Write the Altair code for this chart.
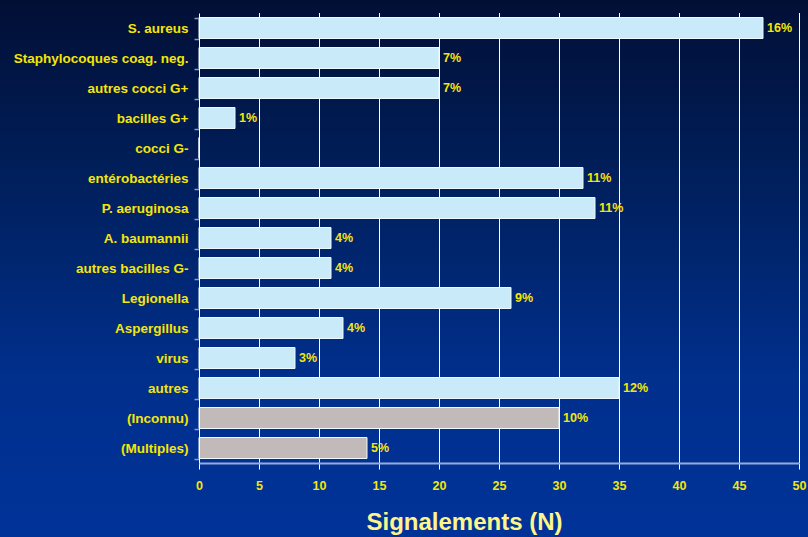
import altair as alt
import pandas as pd

# Reported cases per organism
categories = [
    "S. aureus", "Staphylocoques coag. neg.", "autres cocci G+", "bacilles G+",
    "cocci G-", "entérobactéries", "P. aeruginosa", "A. baumannii",
    "autres bacilles G-", "Legionella", "Aspergillus", "virus", "autres",
    "(Inconnu)", "(Multiples)",
]
counts = [47, 20, 20, 3, 0, 32, 33, 11, 11, 26, 12, 8, 35, 30, 14]
groups = ["connu"] * 13 + ["indéterminé"] * 2
x_ticks = [0, 5, 10, 15, 20, 25, 30, 35, 40, 45, 50]

total = sum(counts)
df = pd.DataFrame({"organisme": categories, "n": counts, "groupe": groups})
df["pct"] = [f"{round(v / total * 100)}%" for v in counts]

YELLOW = "#F5E50A"
W, H = 600, 450
PAD = {"left": 199, "top": 13, "right": 9, "bottom": 74}

x_scale = alt.Scale(domain=[0, 50], nice=False)
y_scale = alt.Scale(domain=categories, paddingInner=0.3, paddingOuter=0.15)

x_axis = alt.Axis(
    values=x_ticks, grid=False, title="Signalements (N)",
    domainColor="#9aaad6", domainWidth=2, tickColor="white", tickSize=6,
    labelColor=YELLOW, labelFont="Liberation Sans", labelFontWeight="bold",
    labelFontSize=12.5, labelPadding=10, labelFlush=False,
    titleColor="#FFF58A", titleFont="Liberation Sans", titleFontWeight="bold",
    titleFontSize=24, titleX=265, titleY=66, titleAlign="center",
    titleBaseline="alphabetic", zindex=1,
)
y_axis = alt.Axis(
    title=None, grid=False, domainColor="white", domainWidth=1,
    tickColor="#8c9dc8", tickSize=5, tickWidth=1.5, tickBand="extent",
    labelColor=YELLOW, labelFont="Liberation Sans", labelFontWeight="bold",
    labelFontSize=13.5, labelPadding=6, zindex=1,
)

# full-page gradient backdrop
backdrop = alt.Chart(alt.Data(values=[{}])).mark_rect(
    color=alt.Gradient(
        gradient="linear",
        stops=[
            alt.GradientStop(color="#020f35", offset=0),
            alt.GradientStop(color="#00205e", offset=0.35),
            alt.GradientStop(color="#002f8c", offset=0.7),
            alt.GradientStop(color="#003399", offset=1),
        ],
        x1=0, x2=0, y1=0, y2=1,
    ),
    strokeWidth=0,
).encode(
    x=alt.value(-PAD["left"]),
    x2=alt.value(W + PAD["right"]),
    y=alt.value(-PAD["top"]),
    y2=alt.value(H + PAD["bottom"]),
)

# vertical grid lines behind the bars
grid = alt.Chart(pd.DataFrame({"n": x_ticks[1:]})).mark_rule(
    color="white", strokeWidth=1, xOffset=0.5
).encode(x=alt.X("n:Q", scale=x_scale, axis=x_axis))

bars = alt.Chart(df).mark_bar(stroke="#eef8ff", strokeWidth=1).encode(
    y=alt.Y("organisme:N", sort=categories, scale=y_scale, axis=y_axis),
    x=alt.X("n:Q", scale=x_scale, axis=x_axis),
    color=alt.Color(
        "groupe:N",
        scale=alt.Scale(domain=["connu", "indéterminé"], range=["#C8EAF9", "#C2BAB8"]),
        legend=None,
    ),
)

labels = alt.Chart(df).transform_filter("datum.n > 0").mark_text(
    align="left", baseline="middle", dx=4, color=YELLOW,
    font="Liberation Sans", fontWeight="bold", fontSize=12.5,
).encode(
    y=alt.Y("organisme:N", sort=categories, scale=y_scale, axis=y_axis),
    x=alt.X("n:Q", scale=x_scale, axis=x_axis),
    text="pct:N",
)

chart = alt.layer(backdrop, grid, bars, labels).properties(
    width=W, height=H, padding=PAD, autosize=alt.AutoSizeParams(type="none"),
    background="#00205e",
).configure_view(stroke=None)

chart.save("out.html", embed_options={"renderer": "svg", "actions": False})
